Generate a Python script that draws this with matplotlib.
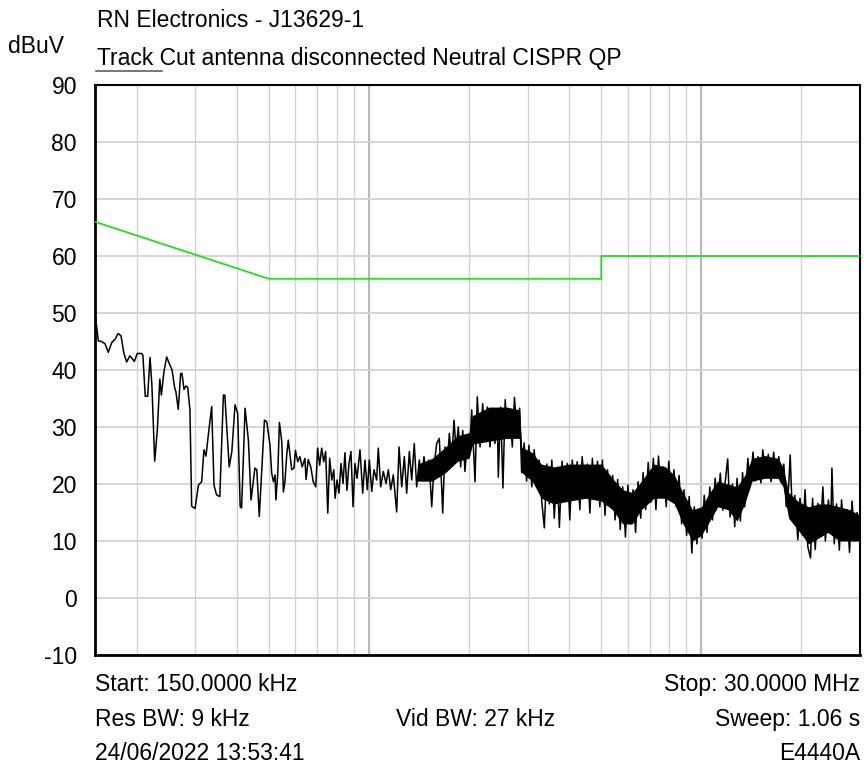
import matplotlib
matplotlib.use('Agg')
import matplotlib.pyplot as plt
from matplotlib.lines import Line2D

plt.rcParams['font.family'] = ['Liberation Sans', 'DejaVu Sans']

# CISPR QP limit, MHz / dBuV
limit_freq = [0.15, 0.5, 5.0, 5.0, 30.0]
limit_level = [66, 56, 56, 60, 60]

trace_freq = [
    0.150, 0.1535, 0.157, 0.1608, 0.1645, 0.1684, 0.1724, 0.176, 0.1796, 0.1833,
    0.1868, 0.191, 0.197, 0.201, 0.207, 0.209, 0.2124, 0.216, 0.2196, 0.2225,
    0.2268, 0.231, 0.235, 0.2375, 0.2418, 0.2464, 0.251, 0.2558, 0.2606, 0.2627,
    0.267, 0.2715, 0.274, 0.2778, 0.2817, 0.285, 0.2895, 0.293, 0.300, 0.307,
    0.314, 0.319, 0.3235, 0.3288, 0.3366, 0.342, 0.348, 0.356, 0.365, 0.3686,
    0.380, 0.387, 0.3956, 0.403, 0.410, 0.414, 0.421, 0.424, 0.434, 0.442,
    0.454, 0.460, 0.468, 0.485, 0.493, 0.504, 0.510, 0.516, 0.522, 0.525,
    0.532, 0.538, 0.547, 0.553, 0.559, 0.566, 0.572, 0.586, 0.595, 0.601,
    0.611, 0.620, 0.630, 0.642, 0.647, 0.657, 0.669, 0.680, 0.692, 0.701,
    0.711, 0.721, 0.731, 0.741, 0.752, 0.762, 0.773, 0.784, 0.791, 0.802,
    0.813, 0.824, 0.836, 0.847, 0.859, 0.871, 0.883, 0.896, 0.908, 0.921,
    0.940, 0.958, 0.973, 0.989, 1.003, 1.020, 1.036, 1.055, 1.067, 1.085,
    1.105, 1.126, 1.144, 1.163, 1.184, 1.212, 1.232, 1.255, 1.278, 1.299,
    1.323, 1.345, 1.369, 1.392, 1.418, 1.441, 1.464, 1.492, 1.516, 1.545,
    1.569, 1.599, 1.628, 1.655, 1.667, 1.694, 1.721, 1.745, 1.774, 1.803,
    1.828, 1.857, 1.888, 1.915, 1.945, 1.976, 2.004, 2.038, 2.085, 2.118,
    2.159, 2.199, 2.235, 2.271, 2.313, 2.357, 2.394, 2.433,
    2.45, 2.49, 2.53, 2.57, 2.61, 2.65, 2.70, 2.74, 2.79, 2.84,
    2.88, 2.93, 2.98, 3.03, 3.09, 3.14, 3.20, 3.25, 3.31, 3.37,
    3.43, 3.49, 3.55, 3.61, 3.68, 3.74, 3.81, 3.88, 3.95, 4.02,
    4.09, 4.16, 4.23, 4.31, 4.38, 4.46, 4.54, 4.62, 4.70, 4.78,
    4.87, 4.95, 5.04, 5.13, 5.22, 5.31, 5.41, 5.50, 5.60, 5.70,
    5.80, 5.91, 6.01, 6.12, 6.23, 6.34, 6.45, 6.57, 6.68, 6.80,
    6.92, 7.05, 7.17, 7.30, 7.43, 7.57, 7.70, 7.84, 7.98, 8.12,
    8.27, 8.41, 8.57, 8.72, 8.87, 9.03, 9.19, 9.36, 9.52, 9.69,
    9.87, 10.05, 10.2, 10.4, 10.6, 10.8, 11.0, 11.2, 11.4, 11.6,
    11.8, 12.0, 12.2, 12.4, 12.6, 12.8, 13.1, 13.3, 13.5, 13.8,
    14.0, 14.3, 14.5, 14.8, 15.1, 15.3, 15.6, 15.9, 16.2, 16.5,
    16.8, 17.1, 17.4, 17.7, 18.0, 18.3, 18.5, 18.8, 19.1, 19.5,
    19.8, 20.2, 20.5, 20.9, 21.3, 21.6, 22.0, 22.4, 22.8, 23.2,
    23.6, 24.1, 24.5, 24.7, 25.1, 25.5, 26.0, 26.4, 26.9, 27.4,
    27.9, 28.4, 28.9, 29.4, 30.0,
]
trace_level = [
    50.0, 45.1, 45.0, 44.6, 43.1, 44.8, 45.4, 46.4, 46.0, 42.9,
    41.4, 42.5, 41.5, 42.9, 42.9, 42.6, 35.4, 35.4, 42.2, 37.2,
    24.0, 29.5, 38.4, 35.6, 39.7, 42.3, 41.1, 40.0, 36.8, 36.2,
    33.1, 39.4, 39.4, 36.6, 37.2, 37.0, 33.0, 16.1, 15.7, 19.8,
    20.4, 26.0, 24.9, 28.6, 33.6, 19.8, 18.1, 17.8, 35.6, 35.6,
    23.0, 25.7, 33.9, 32.4, 16.0, 15.8, 27.7, 33.3, 27.7, 17.2,
    22.8, 22.5, 14.3, 31.2, 30.9, 26.8, 21.9, 20.4, 21.6, 17.2,
    21.9, 30.8, 27.4, 18.6, 20.4, 25.1, 27.7, 22.5, 22.8, 25.9,
    23.9, 24.8, 23.0, 24.5, 20.8, 24.3, 22.9, 20.4, 19.5, 26.3,
    23.3, 26.3, 23.9, 25.7, 14.9, 24.5, 20.7, 22.5, 17.5, 20.7,
    18.4, 23.6, 20.1, 25.5, 18.9, 23.6, 25.7, 16.0, 23.6, 21.0,
    26.0, 18.4, 24.2, 19.0, 24.2, 18.7, 22.5, 20.7, 26.3, 19.5,
    22.2, 20.1, 22.5, 19.0, 21.6, 15.1, 26.5, 19.5, 24.8, 18.4,
    25.7, 20.7, 27.1, 19.5, 24.2, 20.7, 24.8, 21.2, 24.2, 16.0,
    23.0, 27.1, 28.0, 19.5, 14.9, 26.5, 23.0, 28.9, 24.2, 31.2,
    26.0, 30.0, 23.0, 29.4, 22.2, 27.7, 24.8, 33.0, 20.4, 35.3,
    26.5, 34.1, 27.7, 33.5, 26.5, 33.0, 27.1, 32.4,
    21.2, 33.5, 19.3, 34.8, 28.0, 33.0, 26.5, 35.2, 29.0, 33.3,
    22.0, 27.2, 20.5, 26.8, 19.5, 26.0, 21.0, 24.2, 17.0, 12.3,
    23.5, 16.5, 24.2, 14.0, 22.8, 12.4, 24.0, 17.0, 23.6, 13.7,
    24.2, 18.0, 23.9, 15.5, 24.8, 19.0, 23.5, 14.9, 24.5, 17.5,
    24.0, 16.0, 24.2, 14.5, 22.5, 17.2, 21.5, 13.7, 20.8, 12.0,
    19.5, 10.7, 19.8, 13.0, 19.0, 11.5, 20.4, 14.0, 22.0, 15.5,
    23.8, 16.8, 24.5, 15.5, 24.9, 17.8, 23.0, 16.0, 24.0, 17.5,
    22.5, 16.0, 21.5, 13.0, 19.0, 11.0, 17.8, 7.9, 16.0, 9.5,
    15.5, 10.5, 18.0, 11.5, 19.5, 13.7, 21.0, 16.0, 21.9, 15.4,
    20.5, 24.4, 14.2, 20.0, 12.5, 21.0, 13.5, 22.0, 16.0, 24.5,
    19.5, 25.6, 20.5, 24.8, 20.2, 26.0, 21.2, 25.2, 20.4, 25.6,
    21.0, 24.8, 20.2, 23.5, 16.0, 19.5, 25.1, 13.5, 18.0, 10.2,
    17.5, 11.0, 19.0, 9.0, 7.0, 17.5, 8.5, 16.6, 11.4, 19.5,
    10.0, 17.2, 12.5, 22.8, 9.5, 16.5, 8.4, 17.2, 11.0, 15.5,
    8.0, 17.0, 10.0, 15.0, 12.4,
]

# dense body of the trace (upper / lower edge of the black band)
band_freq = [1.40, 1.55, 1.70, 1.85, 2.00, 2.05, 2.30, 2.60, 2.84, 2.88,
             3.10, 3.30, 3.60, 4.00, 4.50, 5.00, 5.40, 5.80, 6.20, 6.60,
             7.20, 7.80, 8.30, 8.80, 9.40, 10.0, 10.6, 11.2, 12.0, 12.8,
             13.5, 14.2, 15.5, 17.0, 17.6, 18.3, 19.5, 21.0, 22.5, 24.0,
             26.0, 28.0, 30.0]
band_hi = [23.5, 24.5, 26.5, 28.5, 29.0, 32.0, 33.5, 33.5, 33.0, 26.5,
           25.5, 23.5, 23.0, 23.5, 23.5, 23.5, 21.0, 19.0, 18.5, 20.5,
           23.5, 23.0, 21.5, 18.5, 15.5, 16.0, 18.5, 20.5, 20.0, 19.5,
           21.5, 24.5, 25.0, 24.5, 23.0, 18.5, 17.0, 16.0, 16.5, 16.5,
           16.0, 15.5, 14.5]
band_lo = [20.5, 20.5, 22.0, 24.0, 24.5, 27.0, 27.5, 28.0, 28.0, 22.0,
           20.5, 17.5, 16.5, 17.0, 17.5, 17.0, 15.5, 13.0, 13.0, 15.5,
           17.5, 17.5, 16.5, 13.0, 10.0, 11.0, 13.5, 16.0, 15.5, 13.5,
           16.5, 20.5, 21.0, 21.0, 19.5, 14.0, 12.0, 9.5, 10.5, 11.5,
           10.0, 10.0, 10.0]

grid_freq = [0.2, 0.3, 0.4, 0.5, 0.6, 0.7, 0.8, 0.9, 1, 2, 3, 4, 5, 6, 7, 8, 9, 10, 20]
decade_freq = [1, 10]
y_ticks = list(range(-10, 100, 10))

fig = plt.figure(figsize=(8.64, 7.67), dpi=100)
ax = fig.add_axes([95 / 864, 112 / 767, 765 / 864, 570 / 767])
ax.set_xscale('log')
ax.set_xlim(0.15, 30)
ax.set_ylim(-10, 90)
ax.set_axisbelow(True)

for f in grid_freq:
    ax.axvline(f, color='#d2d2d2', lw=1.0, zorder=0)
for f in decade_freq:
    ax.axvline(f, color='#b4b4b4', lw=1.3, zorder=0)
for v in y_ticks:
    ax.axhline(v, color='#d2d2d2', lw=1.3, zorder=0)

ax.plot(limit_freq, limit_level, color='#22dd22', lw=1.3, zorder=3)
ax.fill_between(band_freq, band_lo, band_hi, color='black', lw=0, zorder=2)
ax.plot(trace_freq, trace_level, color='black', lw=1.1, zorder=2)

ax.set_yticks(y_ticks)
ax.set_yticklabels([str(v) for v in y_ticks], fontsize=16.5)
ax.set_xticks([])
ax.set_xticks([], minor=True)
ax.tick_params(axis='y', length=0, pad=13)
for side in ['left', 'bottom']:
    ax.spines[side].set_linewidth(2.0)
for side in ['top', 'right']:
    ax.spines[side].set_linewidth(1.5)

def fy(py):
    return 1 - py / 767

fs = 16.5
fig.text(97 / 864, fy(27), 'RN Electronics - J13629-1', fontsize=fs, va='baseline')
fig.text(8 / 864, fy(53), 'dBuV', fontsize=fs, va='baseline')
fig.text(97 / 864, fy(65), 'Track Cut antenna disconnected Neutral CISPR QP', fontsize=fs, va='baseline')
fig.add_artist(Line2D([96 / 864, 162 / 864], [fy(71), fy(71)], color='#606060', lw=1.2))

fig.text(95 / 864, fy(691), 'Start: 150.0000 kHz', fontsize=fs, va='baseline')
fig.text(860 / 864, fy(691), 'Stop: 30.0000 MHz', fontsize=fs, va='baseline', ha='right')
fig.text(95 / 864, fy(726), 'Res BW: 9 kHz', fontsize=fs, va='baseline')
fig.text(476 / 864, fy(726), 'Vid BW: 27 kHz', fontsize=fs, va='baseline', ha='center')
fig.text(860 / 864, fy(726), 'Sweep: 1.06 s', fontsize=fs, va='baseline', ha='right')
fig.text(95 / 864, fy(760), '24/06/2022 13:53:41', fontsize=fs, va='baseline')
fig.text(860 / 864, fy(760), 'E4440A', fontsize=fs, va='baseline', ha='right')

fig.savefig('out.png', dpi=100, facecolor='white')
